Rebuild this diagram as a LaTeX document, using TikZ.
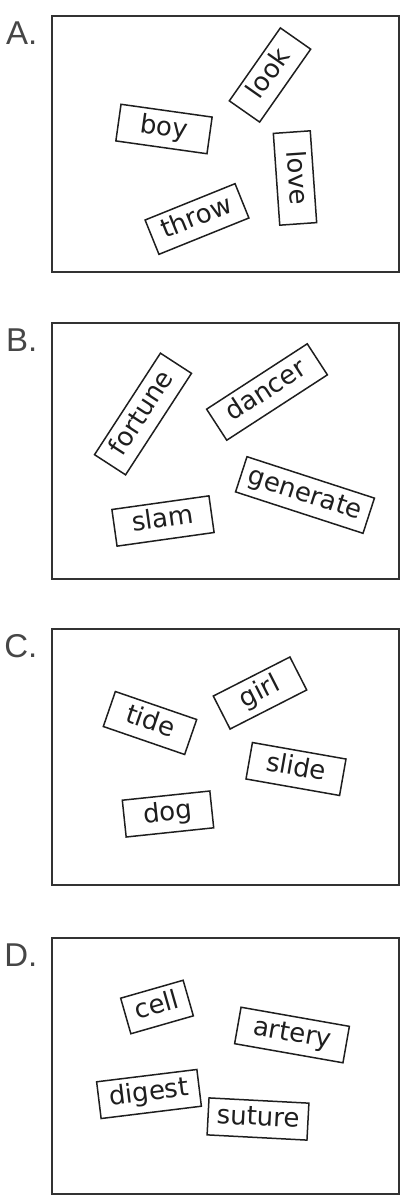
\documentclass[tikz,border=0pt]{standalone}
\usepackage{fontspec}
\setsansfont{DejaVu Sans}
\newfontfamily\lblfont{Liberation Sans}
\usetikzlibrary{positioning}
\definecolor{framegray}{RGB}{50, 50, 50}
\definecolor{wordink}{RGB}{30, 30, 30}
\definecolor{lblgray}{RGB}{70, 70, 70}

\begin{document}
\begin{tikzpicture}[
  x=1pt, y=-1pt,
  node distance=49pt,
  frame/.style={draw=framegray, line width=2pt, minimum width=347pt,
                minimum height=256pt, inner sep=0pt},
  word/.style={draw=wordink, line width=1.5pt, minimum height=37pt,
               inner sep=0pt, text=wordink, text height=19pt, text depth=6pt,
               font=\sffamily\fontsize{26}{26}\selectfont},
  lbl/.style={font=\lblfont\fontsize{33}{33}\selectfont, text=lblgray,
              inner sep=0pt, anchor=base east}
]
  \useasboundingbox (0,0) rectangle (410,1200);

  % panels
  \node[frame] (frameA) at (225,143.5) {};
  \node[frame, below=49pt of frameA] (frameB) {};
  \node[frame, below=48pt of frameB] (frameC) {};
  \node[frame, below=51pt of frameC] (frameD) {};

  \node[lbl] (labA) at ([xshift=-13pt, yshift=-30pt]frameA.north west) {A.};
  \node[lbl] (labB) at ([xshift=-13pt, yshift=-30pt]frameB.north west) {B.};
  \node[lbl] (labC) at ([xshift=-13pt, yshift=-30pt]frameC.north west) {C.};
  \node[lbl] (labD) at ([xshift=-13pt, yshift=-30pt]frameD.north west) {D.};

  % A
  \node[word, rotate=55,  minimum width=89pt]  (look)  at (270,75)  {look};
  \node[word, rotate=-8,  minimum width=92pt]  (boy)   at (164,129) {boy};
  \node[word, rotate=-86, minimum width=92pt]  (love)  at (295,178) {love};
  \node[word, rotate=22,  minimum width=97pt]  (throw) at (197,219) {throw};

  % B
  \node[word, rotate=57,  minimum width=121pt] (fortune)  at (143,414) {fortune};
  \node[word, rotate=33,  minimum width=120pt] (dancer)   at (267,392) {dancer};
  \node[word, rotate=-18, minimum width=134pt] (generate) at (305,495) {generate};
  \node[word, rotate=8,   minimum width=98pt]  (slam)     at (163,521) {slam};

  % C
  \node[word, rotate=-19, minimum width=86pt]  (tide)  at (150,723) {tide};
  \node[word, rotate=27,  minimum width=86pt]  (girl)  at (260,693) {girl};
  \node[word, rotate=-10, minimum width=95pt]  (slide) at (296,769) {slide};
  \node[word, rotate=6,   minimum width=88pt]  (dog)   at (168,814) {dog};

  % D
  \node[word, rotate=16,  minimum width=65pt]  (cell)   at (157,1007) {cell};
  \node[word, rotate=-10, minimum width=110pt] (artery) at (292,1035) {artery};
  \node[word, rotate=7,   minimum width=101pt] (digest) at (149,1094) {digest};
  \node[word, rotate=-3,  minimum width=100pt] (suture) at (258,1119) {suture};
\end{tikzpicture}
\end{document}
